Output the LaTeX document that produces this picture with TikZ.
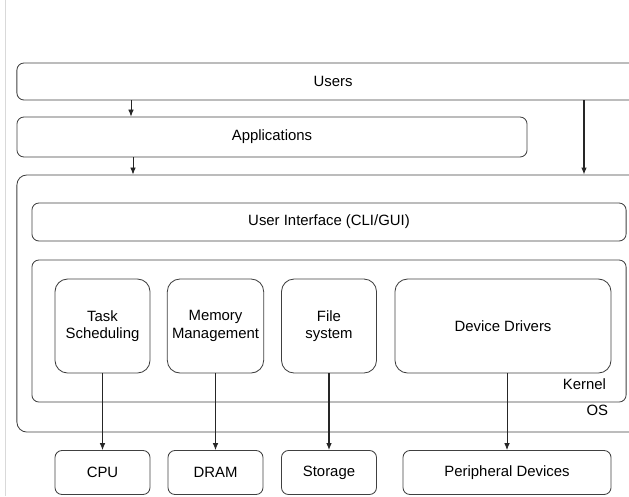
\documentclass[tikz,border=0pt]{standalone}
\usepackage{fontspec}
\setmainfont{Liberation Sans}
\usetikzlibrary{arrows.meta}

\tikzset{
    txt/.style={font=\fontsize{10.6}{12.6}\selectfont},
    box/.style={txt, draw=black!75, line width=0.6pt, rounded corners=5pt},
    unit/.style={box, rounded corners=9pt, align=center, minimum width=2.375cm, minimum height=2.35cm},
    hw/.style={box, minimum height=1.1cm},
    arr/.style={-{Latex[length=5pt,width=4pt]}, black!85, line width=0.6pt}
}

\begin{document}
\begin{tikzpicture}[x=0.025cm, y=-0.025cm]
    \useasboundingbox (0,0) rectangle (629,496);
    \clip (0,0) rectangle (629,496);
    \draw[black!15] (5,0) -- (5,496); % faint edge on the left

    % top layers
    \node[box, minimum width=15.8cm, minimum height=0.925cm] (users) at (333,81.5) {Users};
    \node[box, minimum width=12.75cm, minimum height=1cm] (apps) at (272,137) {Applications};

    % OS and kernel
    \node[box, rounded corners=7pt, minimum width=15.8cm, minimum height=6.425cm] (os) at (333,303.5) {};
    \node[txt, anchor=east] (oslabel) at (613,410) {OS};
    \node[box, minimum width=14.85cm, minimum height=0.95cm] (ui) at (329,222) {User Interface (CLI/GUI)};
    \node[box, minimum width=14.85cm, minimum height=3.55cm] (kernel) at (329,331) {};
    \node[txt, anchor=east] (kernlabel) at (611,384) {Kernel};

    % kernel parts
    \node[unit] (task) at (102.5,326) {Task\\Scheduling};
    \node[unit] (mem) at (215.5,326) {Memory\\Management};
    \node[unit] (fs) at (329,326) {File\\system};
    \node[unit, minimum width=5.4cm] (dd) at (503,326) {Device Drivers};

    % hardware
    \node[hw, minimum width=2.375cm] (cpu) at (102.5,472.5) {CPU};
    \node[hw, minimum width=2.375cm] (dram) at (215.5,472.5) {DRAM};
    \node[hw, minimum width=2.375cm] (store) at (329,472.5) {Storage};
    \node[hw, minimum width=5.2cm] (periph) at (507,472.5) {Peripheral Devices};

    % arrows
    \coordinate (ua) at (131,100);
    \coordinate (ub) at (133,157);
    \coordinate (uc) at (584,100);
    \draw[arr] (ua) -- (apps.north -| ua);
    \draw[arr] (ub) -- (os.north -| ub);
    \draw[arr, line width=0.8pt] (uc) -- (os.north -| uc);
    \draw[arr] (task) -- (cpu);
    \draw[arr] (mem) -- (dram);
    \draw[arr, line width=0.8pt] (fs) -- (store);
    \draw[arr] (periph.north |- dd.south) -- (periph);
\end{tikzpicture}
\end{document}
